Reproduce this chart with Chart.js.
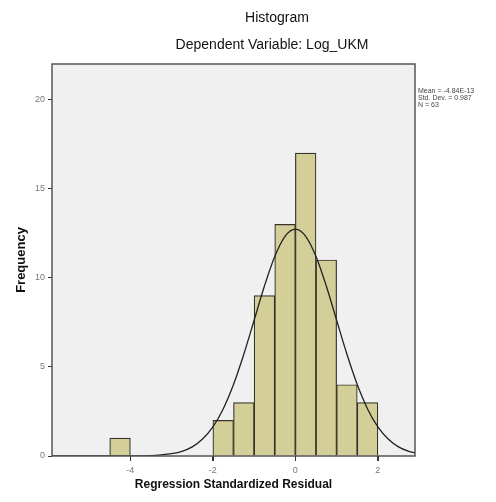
<!DOCTYPE html>
<html>
<head>
<meta charset="utf-8">
<script src="https://cdn.jsdelivr.net/npm/chart.js@4.4.1/dist/chart.umd.min.js"></script>
<style>
  html, body { margin: 0; padding: 0; background: #fff; }
  #wrap { width: 496px; height: 502px; position: relative; }
</style>
</head>
<body>
<div id="wrap"><canvas id="histogram"></canvas></div>
<script>
// histogram bins (centres, width 0.5) and counts
const binCenters = [-4.25, -1.75, -1.25, -0.75, -0.25, 0.25, 0.75, 1.25, 1.75];
const binCounts = [1, 2, 3, 9, 13, 17, 11, 4, 3];

// normal curve
const curveX = [-5.9, -5.5, -5, -4.5, -4, -3.75, -3.5, -3.25, -3, -2.75, -2.5, -2.25, -2, -1.75, -1.5, -1.25, -1, -0.75, -0.5, -0.25,
  0, 0.25, 0.5, 0.75, 1, 1.25, 1.5, 1.75, 2, 2.25, 2.5, 2.75, 2.9];
const curveY = [0, 0, 0, 0, 0, 0.01, 0.02, 0.06, 0.13, 0.26, 0.51, 0.95, 1.63, 2.64, 4.01, 5.71, 7.62, 9.54, 11.2, 12.33,
  12.73, 12.33, 11.2, 9.54, 7.62, 5.71, 4.01, 2.64, 1.63, 0.95, 0.51, 0.26, 0.17];

const xTicks = [-4, -2, 0, 2];
const yTicks = [0, 5, 10, 15, 20];

const statsLines = ['Mean = -4.84E-13', 'Std. Dev. = 0.987', 'N = 63'];

const FONT = '"Liberation Sans", Arial, sans-serif';

const decor = {
  id: 'decor',
  beforeDraw(chart) {
    const { ctx, chartArea: a } = chart;
    ctx.save();
    ctx.fillStyle = '#f0f0f0';
    ctx.fillRect(a.left, a.top, a.right - a.left, a.bottom - a.top);
    ctx.restore();
  },
  afterDatasetsDraw(chart) {
    const { ctx, chartArea: a } = chart;
    ctx.save();
    ctx.strokeStyle = '#555';
    ctx.lineWidth = 1.5;
    ctx.strokeRect(a.left, a.top, a.right - a.left, a.bottom - a.top);
    // x tick marks below the axis
    ctx.strokeStyle = '#333';
    ctx.lineWidth = 1;
    xTicks.forEach(v => {
      const px = Math.round(chart.scales.x.getPixelForValue(v)) + 0.5;
      ctx.beginPath();
      ctx.moveTo(px, a.bottom);
      ctx.lineTo(px, a.bottom + 5);
      ctx.stroke();
    });
    ctx.restore();
  },
  afterDraw(chart) {
    const { ctx, chartArea: a } = chart;
    ctx.save();
    ctx.fillStyle = '#111';
    ctx.textAlign = 'center';
    ctx.textBaseline = 'middle';
    ctx.font = '14px ' + FONT;
    ctx.fillText('Histogram', 277, 18);
    ctx.fillText('Dependent Variable: Log_UKM', 272, 45);

    ctx.font = 'bold 12px ' + FONT;
    ctx.fillText('Regression Standardized Residual', (a.left + a.right) / 2, 485);
    ctx.save();
    ctx.translate(21, (a.top + a.bottom) / 2);
    ctx.rotate(-Math.PI / 2);
    ctx.font = 'bold 13px ' + FONT;
    ctx.fillText('Frequency', 0, 0);
    ctx.restore();

    ctx.textAlign = 'left';
    ctx.fillStyle = '#444';
    ctx.font = '7px ' + FONT;
    statsLines.forEach((t, i) => ctx.fillText(t, a.right + 3, 91 + i * 7));
    ctx.restore();
  }
};

new Chart(document.getElementById('histogram'), {
  data: {
    datasets: [
      {
        type: 'line',
        data: curveX.map((x, i) => ({ x, y: curveY[i] })),
        borderColor: '#222',
        borderWidth: 1.3,
        pointRadius: 0,
        cubicInterpolationMode: 'monotone',
        fill: false,
        order: 0
      },
      {
        type: 'bar',
        data: binCenters.map((x, i) => ({ x, y: binCounts[i] })),
        backgroundColor: '#d4cf98',
        borderColor: '#35342a',
        borderWidth: 1.2,
        barPercentage: 1,
        categoryPercentage: 1,
        order: 1
      }
    ]
  },
  plugins: [decor],
  options: {
    responsive: true,
    maintainAspectRatio: false,
    animation: false,
    layout: { padding: { top: 64, right: 81, left: 0, bottom: 0 } },
    plugins: { legend: { display: false }, tooltip: { enabled: false } },
    scales: {
      x: {
        type: 'linear',
        min: -5.9,
        max: 2.9,
        offset: false,
        afterBuildTicks: s => { s.ticks = xTicks.map(v => ({ value: v })); },
        afterFit: s => { s.height = 46; },
        grid: { offset: false, drawOnChartArea: false, drawTicks: true, tickLength: 5, color: '#333', lineWidth: 1 },
        border: { display: false },
        ticks: { color: '#777', font: { size: 9, family: FONT }, padding: 4, maxRotation: 0 }
      },
      y: {
        min: 0,
        max: 22,
        afterBuildTicks: s => { s.ticks = yTicks.map(v => ({ value: v })); },
        afterFit: s => { s.width = 52; },
        grid: { drawOnChartArea: false, drawTicks: true, tickLength: 4, color: '#333', lineWidth: 1 },
        border: { display: false },
        ticks: { color: '#777', font: { size: 9, family: FONT }, padding: 3 }
      }
    }
  }
});
</script>
</body>
</html>
